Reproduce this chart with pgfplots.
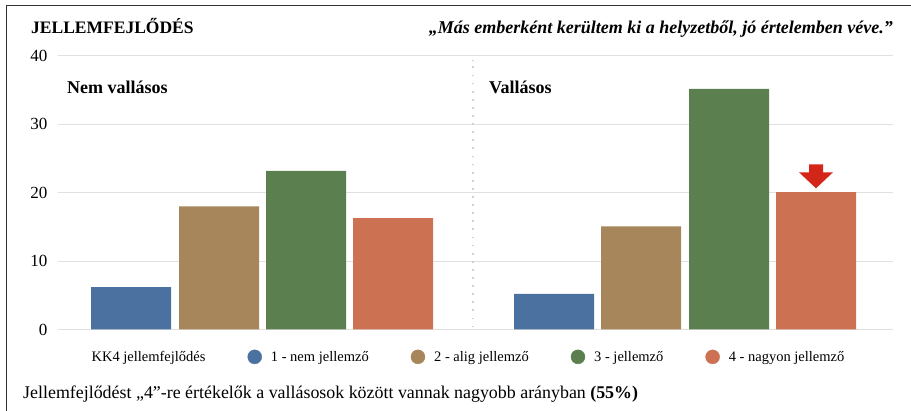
\documentclass[border=0pt]{standalone}
\usepackage{pgfplots}
\pgfplotsset{compat=1.18}
\usepackage{fontspec}
\setmainfont{Liberation Serif}
\definecolor{c1}{HTML}{4A71A0}
\definecolor{c2}{HTML}{A6865A}
\definecolor{c3}{HTML}{5C7F50}
\definecolor{c4}{HTML}{CC7152}
\definecolor{arrowred}{HTML}{D42519}
\newcommand{\lf}{\fontsize{14.5}{17}\selectfont}
\pgfdeclareplotmark{downarrow}{%
  \pgfpathmoveto{\pgfpoint{-7pt}{27.75pt}}%
  \pgfpathlineto{\pgfpoint{7pt}{27.75pt}}%
  \pgfpathlineto{\pgfpoint{7pt}{19.75pt}}%
  \pgfpathlineto{\pgfpoint{17pt}{19.75pt}}%
  \pgfpathlineto{\pgfpoint{0pt}{3.75pt}}%
  \pgfpathlineto{\pgfpoint{-17pt}{19.75pt}}%
  \pgfpathlineto{\pgfpoint{-7pt}{19.75pt}}%
  \pgfpathclose\pgfusepath{fill}}
\begin{document}
\begin{tikzpicture}[x=1pt,y=1pt]
\path[use as bounding box] (0,0) rectangle (911,410);
\draw[line width=1.5pt, black!80] (912,404.5) -- (6.5,404.5) -- (6.5,-2);
\begin{axis}[at={(58pt,80.5pt)}, anchor=south west, scale only axis,
  width=835pt, height=273.5pt,
  xmin=58, xmax=893, ymin=0, ymax=40,
  ytick={0,10,20,30,40}, xtick=\empty,
  axis line style={draw=none}, major tick length=0pt,
  ymajorgrids, grid style={black!12, line width=1pt},
  /pgf/number format/assume math mode=true,
  yticklabel style={font=\fontsize{17}{20}\selectfont, xshift=-7pt},
  ybar, bar width=80, bar shift=0pt,
  legend columns=5,
  legend style={draw=none, fill=none, at={(0.4868,-0.1)}, anchor=center,
    font=\lf,
    /tikz/every even column/.append style={column sep=40pt},
    /tikz/every odd column/.append style={column sep=7pt}},
]
\addplot[draw=none, fill=c1, forget plot] coordinates {(131,6.2) (554,5.2)};
\addplot[draw=none, fill=c2, forget plot] coordinates {(219,18.0) (641,15.1)};
\addplot[draw=none, fill=c3, forget plot] coordinates {(306,23.2) (729,35.2)};
\addplot[draw=none, fill=c4, forget plot] coordinates {(393,16.3) (816,20.1)};
\addplot[sharp plot, black!18, line width=1.8pt, dash pattern=on 1.8pt off 6.3pt, forget plot] coordinates {(473,0.3) (473,39.4)};
\addplot[only marks, mark=downarrow, color=arrowred, forget plot] coordinates {(816,20.1)};
\addlegendimage{empty legend}
\addlegendentry{\lf KK4 jellemfejlődés}
\addlegendimage{legend image code/.code={\fill[c1] (7pt,0pt) circle (7pt);}}
\addlegendentry{\lf 1 - nem jellemző}
\addlegendimage{legend image code/.code={\fill[c2] (7pt,0pt) circle (7pt);}}
\addlegendentry{\lf 2 - alig jellemző}
\addlegendimage{legend image code/.code={\fill[c3] (7pt,0pt) circle (7pt);}}
\addlegendentry{\lf 3 - jellemző}
\addlegendimage{legend image code/.code={\fill[c4] (7pt,0pt) circle (7pt);}}
\addlegendentry{\lf 4 - nagyon jellemző}
\end{axis}
\node[anchor=base west, inner sep=0, font=\bfseries\fontsize{17.5}{20}\selectfont] at (31,376.5) {JELLEMFEJLŐDÉS};
\node[anchor=base east, inner sep=0, font=\bfseries\itshape\fontsize{18}{21}\selectfont] at (893,376.5) {„Más emberként kerültem ki a helyzetből, jó értelemben véve.”};
\node[anchor=base west, inner sep=0, font=\bfseries\fontsize{18}{21}\selectfont] at (67,316) {Nem vallásos};
\node[anchor=base west, inner sep=0, font=\bfseries\fontsize{18}{21}\selectfont] at (489,316) {Vallásos};
\node[anchor=base west, inner sep=0, font=\fontsize{17.9}{21}\selectfont] at (23,12) {Jellemfejlődést „4”-re értékelők a vallásosok között vannak nagyobb arányban \textbf{(55\%)}};
\end{tikzpicture}
\end{document}
